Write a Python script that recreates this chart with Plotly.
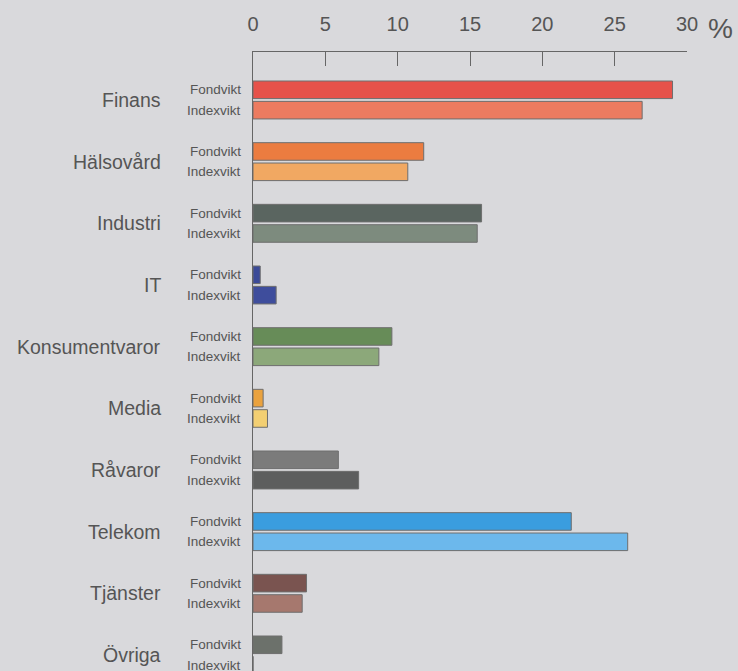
import plotly.graph_objects as go

# Sector weights (%) – fund weight vs. index weight
sectors = ["Finans", "Hälsovård", "Industri", "IT", "Konsumentvaror",
           "Media", "Råvaror", "Telekom", "Tjänster", "Övriga"]
fondvikt = [29.0, 11.8, 15.8, 0.5, 9.6, 0.7, 5.9, 22.0, 3.7, 2.0]
indexvikt = [26.9, 10.7, 15.5, 1.6, 8.7, 1.0, 7.3, 25.9, 3.4, 0.0]

fond_colors = ["#e6524a", "#eb7c40", "#5a6560", "#3b4a98", "#678c58",
               "#eaa23e", "#7b7b7b", "#3a9ddf", "#7a5450", "#6c716b"]
index_colors = ["#ec7b60", "#f1a862", "#7d8b7e", "#3e4d9c", "#8ca87a",
                "#f3cf72", "#5d5e5e", "#6cb8ec", "#a6786e", "#8a8d88"]

tick_vals = [0, 5, 10, 15, 20, 25, 30]
tick_text = ["0", "5", "10", "15", "20", "25", "30"]

bg = "#d9d9dc"
text_col = "#555555"
font_family = "Liberation Sans, Arial, sans-serif"

pos = list(range(len(sectors)))
off = 0.165
bw = 0.285

fig = go.Figure()
fig.add_trace(go.Bar(
    x=fondvikt, y=[p - off for p in pos], orientation="h", width=bw,
    marker=dict(color=fond_colors, line=dict(color="#6e6e6e", width=1)),
    name="Fondvikt", showlegend=False, hoverinfo="x",
))
fig.add_trace(go.Bar(
    x=indexvikt, y=[p + off for p in pos], orientation="h", width=bw,
    marker=dict(color=index_colors, line=dict(color="#6e6e6e", width=1)),
    name="Indexvikt", showlegend=False, hoverinfo="x",
))

annotations = []
for p, s in zip(pos, sectors):
    annotations.append(dict(
        x=-0.207, y=p, xref="paper", yref="y", text=s, showarrow=False,
        xanchor="right", yanchor="middle",
        font=dict(size=19.5, color=text_col, family=font_family),
    ))
    for lbl, dy in (("Fondvikt", -off), ("Indexvikt", off)):
        annotations.append(dict(
            x=-0.022, y=p + dy, xref="paper", yref="y", text=lbl,
            showarrow=False, xanchor="right", yanchor="middle",
            font=dict(size=13.5, color=text_col, family=font_family),
        ))

# Percent sign after the last tick label
annotations.append(dict(
    x=30, y=1, xref="x", yref="paper", text="%", showarrow=False,
    xanchor="center", yanchor="middle", xshift=33, yshift=24,
    font=dict(size=28, color=text_col, family=font_family),
))

fig.update_layout(
    width=738, height=671,
    margin=dict(l=253, r=51, t=52, b=0),
    paper_bgcolor=bg, plot_bgcolor=bg,
    barmode="overlay",
    annotations=annotations,
    xaxis=dict(
        side="top", range=[0, 30], tickvals=tick_vals, ticktext=tick_text,
        ticks="inside", ticklen=14, tickwidth=1.2, tickcolor="#666666",
        showline=True, linecolor="#666666", linewidth=1.2,
        showgrid=False, zeroline=False, ticklabelstandoff=12,
        tickfont=dict(size=20, color=text_col, family=font_family),
    ),
    yaxis=dict(
        range=[9.26, -0.778], showticklabels=False, ticks="",
        showline=True, linecolor="#666666", linewidth=1.2,
        showgrid=False, zeroline=False,
    ),
)

fig.write_html("out.html")
